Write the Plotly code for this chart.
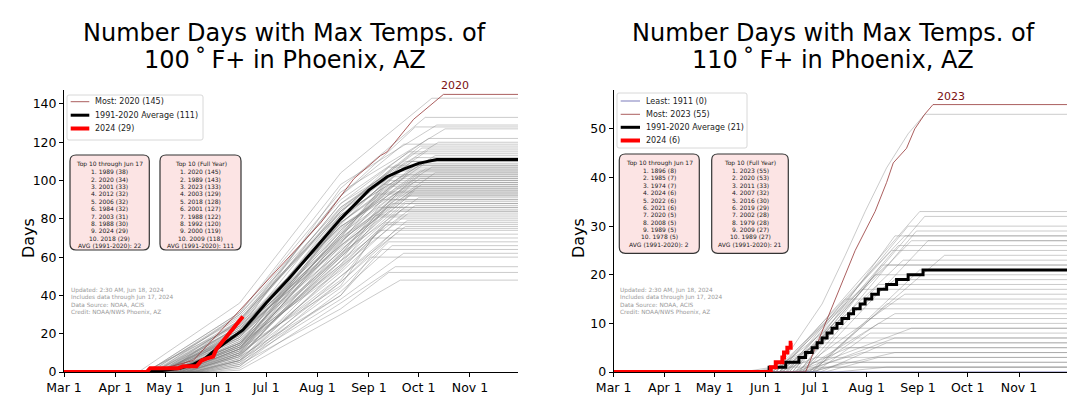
import pandas as pd
import plotly.graph_objects as go

# x values are days after Mar 1 (Mar 1 = 0, Jun 15 = 106, Aug 15 = 167, Nov 30 = 274)
END_DAY = 274
JUN15, AUG15 = 106, 167

# ---------------- 100F+ ----------------
# grey years: first day, count on Jun 15, count on Aug 15, day total reached, season total
g100_start = [45, 55, 50, 58, 50, 52, 60, 55, 62, 57, 48, 63, 55, 60, 66, 53, 62, 70, 58, 64, 50, 68, 61, 56, 72, 59, 65,
              54, 70, 62, 75, 58, 67, 64, 73, 60, 78, 66, 70, 63, 80, 68, 74, 65, 82, 70, 77, 68, 84, 72, 80, 76, 88, 82, 90,
              60, 54, 66, 58, 70, 52, 64, 72, 57, 62, 75, 55, 68, 60, 74, 58, 66, 78, 61, 70, 64, 76, 68, 72, 80, 66, 74,
              62, 85, 78]
g100_jun15 = [36, 22, 31, 27, 31, 30, 24, 26, 27, 18, 25, 20, 30, 22, 15, 27, 19, 12, 24, 17, 28, 14, 21, 19, 10, 22, 16,
              23, 11, 18, 8, 20, 14, 15, 9, 17, 6, 13, 12, 15, 5, 11, 9, 13, 4, 10, 7, 12, 3, 8, 5, 6, 2, 4, 1,
              21, 26, 14, 23, 12, 29, 18, 11, 24, 20, 9, 25, 13, 20, 10, 21, 15, 7, 19, 12, 16, 8, 13, 10, 6, 14, 9,
              15, 3, 6]
g100_aug15 = [104, 96, 98, 92, 94, 90, 88, 92, 85, 84, 88, 82, 86, 80, 78, 84, 76, 80, 76, 74, 82, 72, 78, 70, 74, 69, 72,
              66, 68, 71, 64, 66, 62, 67, 60, 63, 58, 61, 56, 60, 55, 58, 52, 55, 50, 48, 47, 45, 42, 40, 38, 40, 36, 33, 30,
              86, 84, 82, 77, 78, 83, 75, 79, 70, 73, 71, 76, 72, 68, 70, 65, 69, 66, 63, 67, 61, 62, 58, 60, 54, 56, 50,
              53, 47, 44]
g100_end = [222, 218, 225, 212, 230, 220, 226, 205, 215, 220, 208, 224, 212, 210, 218, 200, 222, 205, 215, 208, 198, 214,
            203, 210, 200, 216, 197, 212, 204, 195, 210, 200, 214, 192, 206, 198, 212, 190, 204, 196, 208, 188, 202, 194,
            206, 190, 200, 186, 198, 192, 205, 185, 200, 196, 203,
            216, 210, 220, 206, 212, 196, 218, 202, 224, 207, 199, 215, 196, 211, 193, 209, 200, 212, 202, 190, 208,
            199, 206, 195, 203, 190, 207, 194, 201, 196]
g100_total = [143, 133, 129, 128, 127, 122, 120, 119, 118, 116, 115, 113, 112, 110, 109, 108, 107, 106, 105, 104, 103,
              102, 101, 100, 99, 98, 97, 96, 95, 94, 93, 92, 91, 90, 89, 88, 87, 86, 85, 84, 83, 82, 80, 78, 76, 74, 72,
              70, 66, 64, 62, 60, 55, 52, 48,
              117, 114, 111, 110, 108, 107, 106, 105, 104, 103, 102, 101, 100, 99, 98, 97, 96, 95, 94, 93, 92, 90, 88,
              86, 84, 81, 79, 77, 75, 68]

most100_days = [0, 52, 78, 106, 122, 155, 175, 191, 195, 211, 229, END_DAY]
most100_vals = [0, 0, 6, 32, 47, 78, 101, 113, 115, 132, 145, 145]

avg100_days = [0, 50, 62, 70, 78, 85, 92, 100, 108, 115, 122, 135, 153, 167, 184, 195, 205, 214, 225, END_DAY]
avg100_vals = [0, 0, 1, 2, 4, 7, 12, 17, 22, 29, 36, 48, 66, 80, 95, 102, 106, 109, 111, 111]

y2024_100_days = [0, 50, 51, 52, 69, 72, 80, 83, 86, 90, 92, 108]
y2024_100_vals = [0, 0, 1, 2, 2, 3, 3, 6, 7, 8, 12, 29]

# ---------------- 110F+ ----------------
g110_start = [100, 108, 105, 112, 98, 110, 102, 115, 106, 100, 118, 104, 112, 96, 120, 108, 100, 114, 98, 110, 104, 120,
              96, 112, 106, 118, 100, 110, 122, 95, 115, 102, 125, 108, 90, 112, 118, 100, 128, 85, 120, 78, 112, 135]
g110_end = [185, 188, 178, 183, 176, 170, 180, 190, 172, 168, 200, 175, 162, 165, 185, 158, 170, 160, 150, 176, 140, 165,
            145, 170, 138, 160, 135, 180, 155, 130, 170, 125, 165, 142, 120, 150, 170, 122, 160, 110, 140, 96, 128, 165]
g110_total = [33, 32, 30, 29, 28, 28, 27, 27, 26, 25, 24, 23, 22, 22, 21, 20, 19, 18, 17, 16, 15, 14, 13, 12, 11, 10,
              9, 9, 8, 7, 7, 6, 6, 5, 5, 4, 4, 3, 3, 2, 2, 1, 1, 1]

second110_days = [0, 98, 108, 126, 140, 152, 165, 178, 188, END_DAY]  # 2020
second110_vals = [0, 0, 5, 14, 24, 33, 42, 49, 53, 53]

most110_days = [0, 116, 122, 128, 134, 140, 146, 152, 158, 165, 169, 177, 182, 188, 193, END_DAY]  # 2023
most110_vals = [0, 0, 5, 10, 15, 20, 25, 29, 33, 39, 43, 46, 50, 53, 55, 55]

least110_days = [0, END_DAY]  # 1911
least110_vals = [0, 0]

avg110_days = [0, 94, 104, 112, 116, 120, 123, 126, 129, 132, 135, 138, 142, 145, 149, 152, 156, 160, 165, 171, 178,
               187, END_DAY]
avg110_vals = [0, 1, 2, 3, 4, 5, 6, 7, 8, 9, 10, 11, 12, 13, 14, 15, 16, 17, 18, 19, 20, 21, 21]

y2024_110_days = [0, 95, 98, 102, 103, 105, 107, 108]
y2024_110_vals = [0, 1, 2, 3, 4, 5, 6, 6]

# ---------------- text ----------------
top_jun17_100 = ["Top 10 through Jun 17", "1. 1989 (38)", "2. 2020 (34)", "3. 2001 (33)", "4. 2012 (32)",
                 "5. 2006 (32)", "6. 1984 (32)", "7. 2003 (31)", "8. 1988 (30)", "9. 2024 (29)", "10. 2018 (29)",
                 "AVG (1991-2020): 22"]
top_full_100 = ["Top 10 (Full Year)", "1. 2020 (145)", "2. 1989 (143)", "3. 2023 (133)", "4. 2003 (129)",
                "5. 2018 (128)", "6. 2001 (127)", "7. 1988 (122)", "8. 1992 (120)", "9. 2000 (119)",
                "10. 2009 (118)", "AVG (1991-2020): 111"]
top_jun17_110 = ["Top 10 through Jun 17", "1. 1896 (8)", "2. 1985 (7)", "3. 1974 (7)", "4. 2024 (6)", "5. 2022 (6)",
                 "6. 2021 (6)", "7. 2020 (5)", "8. 2008 (5)", "9. 1989 (5)", "10. 1978 (5)", "AVG (1991-2020): 2"]
top_full_110 = ["Top 10 (Full Year)", "1. 2023 (55)", "2. 2020 (53)", "3. 2011 (33)", "4. 2007 (32)", "5. 2016 (30)",
                "6. 2019 (29)", "7. 2002 (28)", "8. 1979 (28)", "9. 2009 (27)", "10. 1989 (27)",
                "AVG (1991-2020): 21"]
footnote = ["Updated: 2:30 AM, Jun 18, 2024", "Includes data through Jun 17, 2024", "Data Source: NOAA, ACIS",
            "Credit: NOAA/NWS Phoenix, AZ"]
legend100 = ["Most: 2020 (145)", "1991-2020 Average (111)", "2024 (29)"]
legend110 = ["Least: 1911 (0)", "Most: 2023 (55)", "1991-2020 Average (21)", "2024 (6)"]

# page has an 8px body margin, so the figure is drawn 8px smaller and positions below are page pixels
OFF = 8
W, H = 1092 - OFF, 406 - OFF
FONT = "DejaVu Sans"
START = pd.Timestamp("2024-03-01")
GREY = "rgba(125,125,125,0.5)"
MOST_C = "rgba(150,55,55,0.8)"
LEAST_C = "rgba(90,90,170,0.8)"


def dates(days):
    return [START + pd.Timedelta(days=int(d)) for d in days]


def X(px):
    return (px - OFF) / W


def Y(py):
    return 1 - (py - OFF) / H


fig = go.Figure()

for s, a, b, e, t in zip(g100_start, g100_jun15, g100_aug15, g100_end, g100_total):
    fig.add_trace(go.Scatter(x=dates([0, s, JUN15, AUG15, e, END_DAY]), y=[0, 0, a, b, t, t], mode="lines",
                             line=dict(color=GREY, width=0.8), showlegend=False, hoverinfo="skip",
                             xaxis="x", yaxis="y"))
fig.add_trace(go.Scatter(x=dates(most100_days), y=most100_vals, mode="lines", line=dict(color=MOST_C, width=1),
                         showlegend=False, xaxis="x", yaxis="y"))
fig.add_trace(go.Scatter(x=dates(avg100_days), y=avg100_vals, mode="lines", line=dict(color="black", width=3),
                         showlegend=False, xaxis="x", yaxis="y"))
fig.add_trace(go.Scatter(x=dates(y2024_100_days), y=y2024_100_vals, mode="lines", line=dict(color="red", width=4),
                         showlegend=False, xaxis="x", yaxis="y"))

for s, e, t in zip(g110_start, g110_end, g110_total):
    fig.add_trace(go.Scatter(x=dates([0, s, e, END_DAY]), y=[0, 0, t, t], mode="lines",
                             line=dict(color=GREY, width=0.8), showlegend=False, hoverinfo="skip",
                             xaxis="x2", yaxis="y2"))
fig.add_trace(go.Scatter(x=dates(second110_days), y=second110_vals, mode="lines", line=dict(color=GREY, width=0.8),
                         showlegend=False, xaxis="x2", yaxis="y2"))
fig.add_trace(go.Scatter(x=dates(least110_days), y=least110_vals, mode="lines", line=dict(color=LEAST_C, width=1),
                         showlegend=False, xaxis="x2", yaxis="y2"))
fig.add_trace(go.Scatter(x=dates(most110_days), y=most110_vals, mode="lines", line=dict(color=MOST_C, width=1),
                         showlegend=False, xaxis="x2", yaxis="y2"))
fig.add_trace(go.Scatter(x=dates(avg110_days), y=avg110_vals, mode="lines", line=dict(color="black", width=3,
                         shape="hv"), showlegend=False, xaxis="x2", yaxis="y2"))
fig.add_trace(go.Scatter(x=dates(y2024_110_days), y=y2024_110_vals, mode="lines",
                         line=dict(color="red", width=4, shape="hv"), showlegend=False, xaxis="x2", yaxis="y2"))

month_ticks = pd.date_range("2024-03-01", "2024-11-01", freq="MS")
xcommon = dict(type="date", range=["2024-03-01", "2024-11-30"], tickmode="array", tickvals=month_ticks,
               ticktext=[d.strftime("%b ") + str(d.day) for d in month_ticks], showline=True, linecolor="black",
               linewidth=1, ticks="outside", ticklen=4, tickcolor="black", showgrid=False, zeroline=False,
               automargin=False, tickfont=dict(size=12.5, color="black", family=FONT))
ycommon = dict(showline=True, linecolor="black", linewidth=1, ticks="outside", ticklen=4, tickcolor="black",
               showgrid=False, zeroline=False, automargin=False, tickfont=dict(size=12.5, color="black", family=FONT),
               domain=[Y(372), Y(90)])

fig.update_layout(
    width=W, height=H, margin=dict(l=0, r=0, t=0, b=0, autoexpand=False), paper_bgcolor="white",
    plot_bgcolor="white", showlegend=False, font=dict(family=FONT),
    xaxis=dict(xcommon, domain=[X(64), X(518)], anchor="y"),
    yaxis=dict(ycommon, range=[0, 147.3], dtick=20, anchor="x"),
    xaxis2=dict(xcommon, domain=[X(613.6), X(1067)], anchor="y2"),
    yaxis2=dict(ycommon, range=[0, 58], dtick=10, anchor="x2"),
)

shapes = []
ann = []


def rounded_box(x0, y0, x1, y1, r, fill, line_color, lw):
    p = (f"M {X(x0 + r)},{Y(y0)} L {X(x1 - r)},{Y(y0)} Q {X(x1)},{Y(y0)} {X(x1)},{Y(y0 + r)} "
         f"L {X(x1)},{Y(y1 - r)} Q {X(x1)},{Y(y1)} {X(x1 - r)},{Y(y1)} L {X(x0 + r)},{Y(y1)} "
         f"Q {X(x0)},{Y(y1)} {X(x0)},{Y(y1 - r)} L {X(x0)},{Y(y0 + r)} Q {X(x0)},{Y(y0)} {X(x0 + r)},{Y(y0)} Z")
    shapes.append(dict(type="path", path=p, xref="paper", yref="paper", fillcolor=fill,
                       line=dict(color=line_color, width=lw), layer="above"))


def text(px, py, s, size, color="black", anchor="left", **kw):
    ann.append(dict(x=X(px), y=Y(py), xref="paper", yref="paper", text=s, showarrow=False, xanchor=anchor,
                    yanchor="middle", font=dict(size=size, color=color, family=FONT), **kw))


# titles and axis labels
for cx, deg in [(284.5, "100"), (833, "110")]:
    text(cx, 33, "Number Days with Max Temps. of", 24, anchor="center")
    text(cx, 60, deg + "\u2009\u02da\u2009F+ in Phoenix, AZ", 24, anchor="center")
text(29, 238, "Days", 16, anchor="center", textangle=-90)
text(579, 238, "Days", 16, anchor="center", textangle=-90)

# legends
legend_specs = [
    (67, 95, 203, 140, [101.7, 115.2, 128.5], legend100,
     [(MOST_C, 1), ("black", 3), ("red", 4)], 70.7, 89.3),
    (617, 93, 747, 148, [101, 114.3, 127.3, 140.5], legend110,
     [(LEAST_C, 1), (MOST_C, 1), ("black", 3), ("red", 4)], 620.7, 640),
]
for x0, y0, x1, y1, rows, labels, styles, lx0, lx1 in legend_specs:
    rounded_box(x0, y0, x1, y1, 2, "rgba(255,255,255,0.85)", "#d8d8d8", 1)
    for ry, lab, (c, w) in zip(rows, labels, styles):
        shapes.append(dict(type="line", xref="paper", yref="paper", x0=X(lx0), x1=X(lx1), y0=Y(ry), y1=Y(ry),
                           line=dict(color=c, width=w), layer="above"))
        text(lx1 + 4, ry, lab, 8, color="#222")

# top-10 boxes
box_specs = [
    (70, 155, 149.3, 250, 164.3, 7.4, top_jun17_100),
    (160, 155, 241, 250, 164.3, 7.4, top_full_100),
    (619.3, 154, 699.3, 253.3, 163.3, 7.34, top_jun17_110),
    (711.7, 154, 788.3, 253.3, 163.3, 7.34, top_full_110),
]
for x0, y0, x1, y1, ty, step, lines in box_specs:
    rounded_box(x0, y0, x1, y1, 6, "rgb(252,228,228)", "#333333", 1.2)
    for i, s in enumerate(lines):
        text((x0 + x1) / 2, ty + i * step, s, 6, color="#222", anchor="center")

# footnotes
for fx in [69.3, 618.3]:
    for i, s in enumerate(footnote):
        text(fx, 290.7 + i * 7.2, s, 5.8, color="#9a9a9a")

# record-year labels
ann.append(dict(x=START + pd.Timedelta(days=236), y=145, xref="x", yref="y", text="2020", showarrow=False,
                yanchor="bottom", font=dict(size=11, color="#7a1010", family=FONT)))
ann.append(dict(x=START + pd.Timedelta(days=204), y=55, xref="x2", yref="y2", text="2023", showarrow=False,
                yanchor="bottom", font=dict(size=11, color="#7a1010", family=FONT)))

fig.update_layout(shapes=shapes, annotations=ann)

fig.write_html("out.html")
